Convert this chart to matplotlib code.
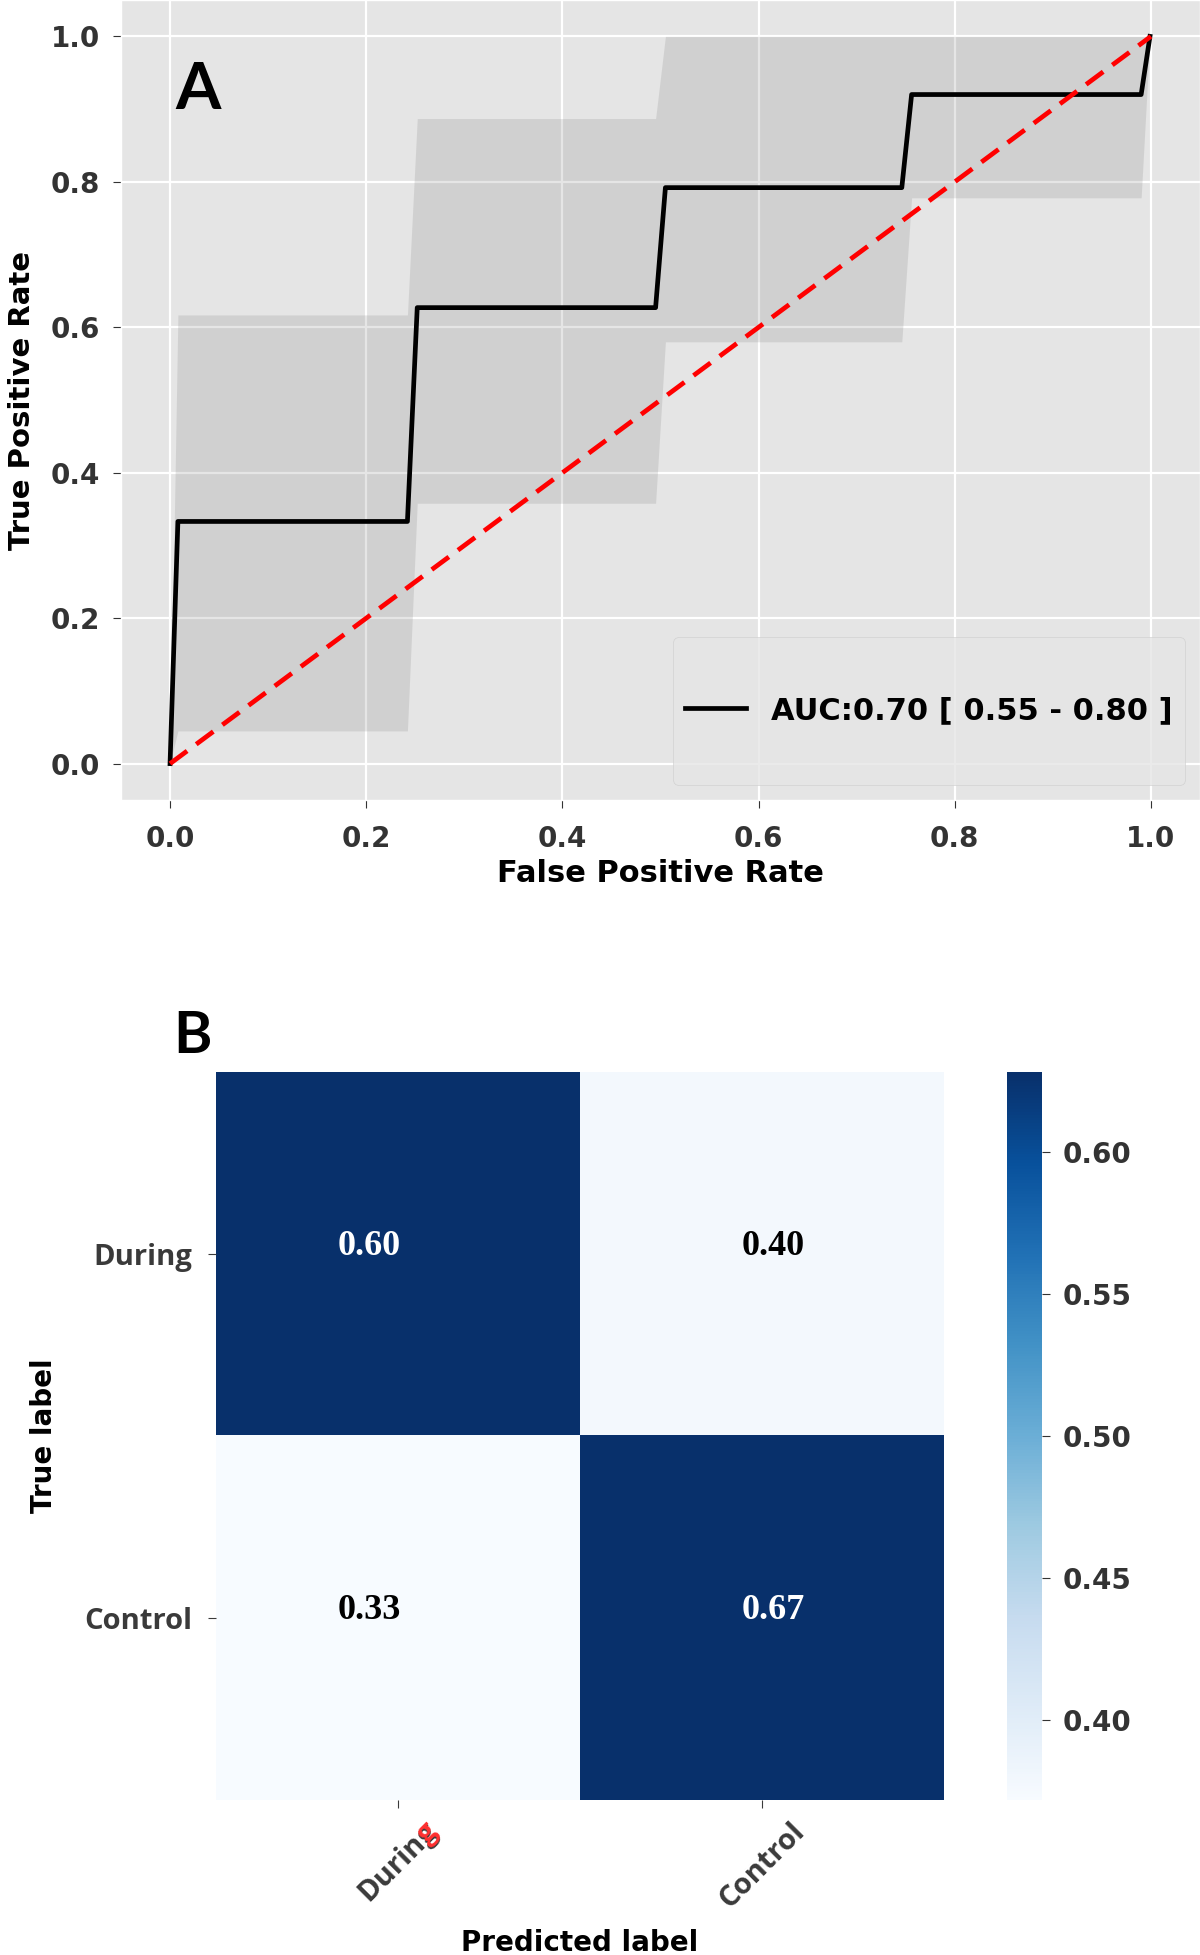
import numpy as np
import matplotlib.pyplot as plt
from matplotlib.colors import Normalize
from matplotlib.cm import ScalarMappable
from matplotlib.lines import Line2D

plt.style.use('ggplot')
plt.rcParams['font.family'] = ['DejaVu Sans']
plt.rcParams['font.weight'] = 'bold'
plt.rcParams['axes.labelweight'] = 'bold'

# mean ROC curve and its confidence band
fpr = [0.0, 0.008, 0.242, 0.252, 0.495, 0.505, 0.746, 0.756, 0.990, 0.999]
tpr = [0.0, 0.333, 0.333, 0.627, 0.627, 0.792, 0.792, 0.920, 0.920, 1.0]
tpr_lower = [0.0, 0.045, 0.045, 0.358, 0.358, 0.580, 0.580, 0.778, 0.778, 1.0]
tpr_upper = [0.0, 0.617, 0.617, 0.887, 0.887, 1.0, 1.0, 1.0, 1.0, 1.0]
auc_label = 'AUC:0.70 [ 0.55 - 0.80 ]'
roc_ticks = [0.0, 0.2, 0.4, 0.6, 0.8, 1.0]

# confusion matrix
classes = ['During', 'Control']
cm = np.array([[0.60, 0.40],
               [0.33, 0.67]])
cbar_ticks = [0.40, 0.45, 0.50, 0.55, 0.60]

W, H = 1200, 1955
fig = plt.figure(figsize=(12, 19.55), dpi=100)

# ---- A: ROC ----
ax = fig.add_axes([121/W, 1-800/H, 1079/W, 800/H])
ax.fill_between(fpr, tpr_lower, tpr_upper, color='grey', alpha=0.2, lw=0)
ax.plot(fpr, tpr, color='black', lw=3.4)
ax.plot([0, 1], [0, 1], color='red', lw=3.4, linestyle=(0, (4.5, 2.4)))
ax.set_xlim(-0.05, 1.05)
ax.set_ylim(-0.05, 1.05)
ax.set_xticks(roc_ticks)
ax.set_yticks(roc_ticks)
ax.tick_params(labelsize=20, colors='#333333', length=6)
ax.tick_params(axis='x', pad=12)
ax.tick_params(axis='y', pad=9)
ax.grid(color='white', lw=1.6)
ax.set_xlabel('False Positive Rate', fontsize=22, color='black', labelpad=4)
ax.set_ylabel('True Positive Rate', fontsize=21, color='black', labelpad=11)

blank = Line2D([], [], color='none')
leg = ax.legend([blank, Line2D([], [], color='black', lw=3.4), blank],
                [' ', auc_label, ' '], loc='lower right',
                prop={'size': 22, 'weight': 'bold'}, labelspacing=0.6,
                facecolor='#E5E5E5', edgecolor='0.8', framealpha=0.8)
for t in leg.get_texts():
    t.set_color('black')

ax.text(0.005, 0.90, 'A', fontsize=47, fontweight='bold', family='Lato',
        va='baseline', color='black')

# ---- B: confusion matrix ----
ax2 = fig.add_axes([216/W, 1-1800/H, 728/W, 728/H])
ax2.imshow(cm, cmap='Blues', vmin=0.396, vmax=0.60, aspect='auto')
col_shift = [-0.08, 0.03]   # the numbers sit slightly off-centre in the original
for i in range(cm.shape[0]):
    for j in range(cm.shape[1]):
        ax2.text(j + col_shift[j], i - 0.02, '%.2f' % cm[i, j], ha='center', va='center',
                 fontsize=26, family='Liberation Serif', fontweight='bold',
                 color='white' if cm[i, j] > 0.5 else 'black')
ax2.grid(False)
ax2.set_facecolor('white')
for s in ax2.spines.values():
    s.set_visible(False)
ax2.set_xticks(range(len(classes)))
ax2.set_yticks(range(len(classes)))
ax2.set_xticklabels(classes, rotation=45, family='Open Sans', fontweight='bold')
ax2.set_yticklabels(classes, family='Open Sans', fontweight='bold')
ax2.tick_params(labelsize=21, colors='#3a3a3a', length=6)
ax2.tick_params(axis='y', pad=11)
ax2.tick_params(axis='x', pad=6)
ax2.set_xlabel('Predicted label', fontsize=20, color='black', labelpad=11)
ax2.set_ylabel('True label', fontsize=20, color='black', labelpad=19)

cax = fig.add_axes([1007/W, 1-1800/H, 35/W, 728/H])
sm = ScalarMappable(norm=Normalize(0.372, 0.628), cmap='Blues')
cb = fig.colorbar(sm, cax=cax, ticks=cbar_ticks)
cb.outline.set_visible(False)
cb.ax.set_yticklabels(['%.2f' % t for t in cbar_ticks])
cb.ax.tick_params(labelsize=20, colors='#333333', length=6, pad=9)

fig.text(173/W, 1-1053/H, 'B', fontsize=42, fontweight='bold', family='Lato',
         va='baseline', color='black')

# the last letter of the "During" x label is red in the original
fig.canvas.draw()
r = fig.canvas.get_renderer()
lab = ax2.get_xticklabels()[0]
bb = lab.get_window_extent(r)
lab.set_rotation(0)
w = lab.get_window_extent(r).width
lab.set_rotation(45)
s45 = np.sin(np.radians(45))
px, py = fig.transFigure.inverted().transform((bb.x1, bb.y0 + w * s45))
fig.text(px, py, 'g', rotation=45, rotation_mode='anchor', ha='right', va='bottom',
         fontsize=21, family='Open Sans', fontweight='bold', color='#ff3030')

plt.savefig('out.png', dpi=100)
